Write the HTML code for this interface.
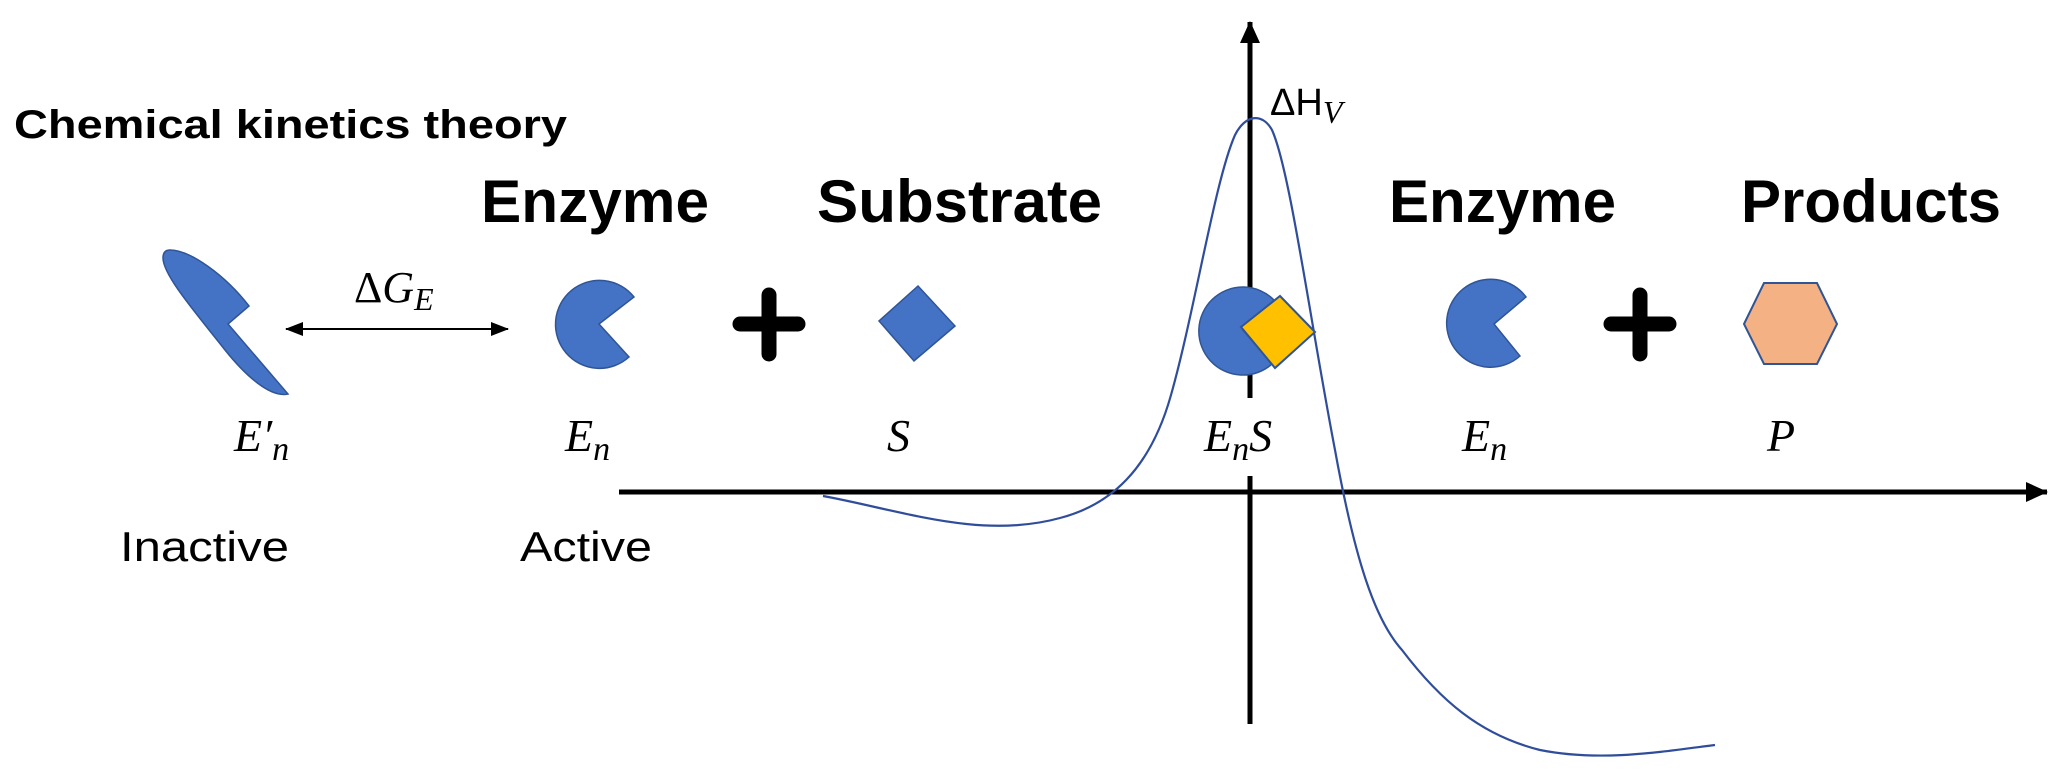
<!DOCTYPE html>
<html><head><meta charset="utf-8"><style>html,body{margin:0;padding:0;background:#fff}svg{display:block}</style></head>
<body>
<svg width="2067" height="775" viewBox="0 0 2067 775" xmlns="http://www.w3.org/2000/svg">
<defs>
<marker id="ah" markerWidth="18" markerHeight="14" refX="17" refY="7" orient="auto-start-reverse" markerUnits="userSpaceOnUse" viewBox="0 0 18 14">
<path d="M0,0 L18,7 L0,14 Z" fill="#000"/></marker>
<marker id="ah2" markerWidth="22" markerHeight="20" refX="21" refY="10" orient="auto-start-reverse" markerUnits="userSpaceOnUse" viewBox="0 0 22 20">
<path d="M0,0 L22,10 L0,20 Z" fill="#000"/></marker>
</defs>
<g font-family="Liberation Sans, sans-serif" font-weight="bold" fill="#000">
<text x="14" y="138" font-size="40" textLength="553" lengthAdjust="spacingAndGlyphs">Chemical kinetics theory</text>
<text x="481" y="222" font-size="60" textLength="228" lengthAdjust="spacingAndGlyphs">Enzyme</text>
<text x="817" y="222" font-size="60" textLength="285" lengthAdjust="spacingAndGlyphs">Substrate</text>
<text x="1389" y="222" font-size="60" textLength="227" lengthAdjust="spacingAndGlyphs">Enzyme</text>
<text x="1741" y="222" font-size="60" textLength="260" lengthAdjust="spacingAndGlyphs">Products</text>
</g>
<g font-family="Liberation Sans, sans-serif" font-size="42" fill="#000">
<text x="120" y="561" textLength="169" lengthAdjust="spacingAndGlyphs">Inactive</text>
<text x="520" y="561" textLength="132" lengthAdjust="spacingAndGlyphs">Active</text>
</g>
<!-- axes -->
<line x1="619" y1="492" x2="2047" y2="492" stroke="#000" stroke-width="5" marker-end="url(#ah2)"/>
<line x1="1250" y1="724" x2="1250" y2="22" stroke="#000" stroke-width="5" marker-end="url(#ah2)"/>
<!-- curve -->
<path d="M823,496 C900,510 980,540 1060,518 C1110,505 1150,470 1171,395 C1195,310 1215,180 1235,135 C1245,115 1262,112 1272,130 C1290,170 1310,320 1335,450 C1355,560 1375,620 1402,650 C1440,700 1480,735 1540,750 C1600,762 1660,752 1715,745" fill="none" stroke="#2F4D9A" stroke-width="2.2"/>
<rect x="1200" y="398" width="90" height="78" fill="#fff"/>
<!-- E'n shape -->
<path d="M170,250 C190,250 225,275 249,306 L228,324 L288,394 C270,398 245,375 225,350 C195,312 163,275 163,258 C163,252 166,250 170,250 Z" fill="#4472C4" stroke="#2F5597" stroke-width="1.5"/>
<!-- double arrow -->
<line x1="286" y1="329" x2="508" y2="329" stroke="#000" stroke-width="2" marker-start="url(#ah)" marker-end="url(#ah)"/>
<g font-family="Liberation Serif, serif" font-style="italic" fill="#000">
<text x="354" y="302" font-size="44"><tspan font-style="normal">Δ</tspan>G<tspan font-size="32" dy="8">E</tspan></text>
<text x="234" y="451" font-size="46">E′<tspan font-size="34" dy="9">n</tspan></text>
<text x="565" y="451" font-size="46">E<tspan font-size="34" dy="9">n</tspan></text>
<text x="887" y="451" font-size="46">S</text>
<text x="1204" y="451" font-size="46">E<tspan font-size="34" dy="9">n</tspan><tspan dy="-9">S</tspan></text>
<text x="1462" y="451" font-size="46">E<tspan font-size="34" dy="9">n</tspan></text>
<text x="1767" y="451" font-size="46">P</text>
</g>
<text x="1270" y="115" font-family="Liberation Sans, sans-serif" font-size="38" fill="#000">ΔH<tspan font-family="Liberation Serif, serif" font-style="italic" font-size="32" dy="8">V</tspan></text>
<path d="M599,324 L634,297 A44,44 0 1 0 629,357 Z" fill="#4472C4" stroke="#2F5597" stroke-width="1.5"/>
<g stroke="#000" stroke-width="15" stroke-linecap="round">
<line x1="769" y1="295" x2="769" y2="354"/><line x1="740" y1="324" x2="798" y2="324"/>
<line x1="1640" y1="295" x2="1640" y2="354"/><line x1="1611" y1="324" x2="1669" y2="324"/>
</g>
<path d="M918,286 L955,326 L914,361 L879,321 Z" fill="#4472C4" stroke="#2F5597" stroke-width="1.5"/>
<path d="M1243,330 L1274,300 A44,44 0 1 0 1272,364 Z" fill="#4472C4" stroke="#2F5597" stroke-width="1.5"/>
<path d="M1280,296 L1315,332 L1275,368 L1241,327 Z" fill="#FFC000" stroke="#2F5597" stroke-width="2"/>
<path d="M1494,324 L1526,297 A44,44 0 1 0 1520,356 Z" fill="#4472C4" stroke="#2F5597" stroke-width="1.5"/>
<path d="M1744,324 L1764,283 L1817,283 L1837,324 L1817,364 L1764,364 Z" fill="#F4B183" stroke="#2F5597" stroke-width="2"/>
</svg>
</body></html>
